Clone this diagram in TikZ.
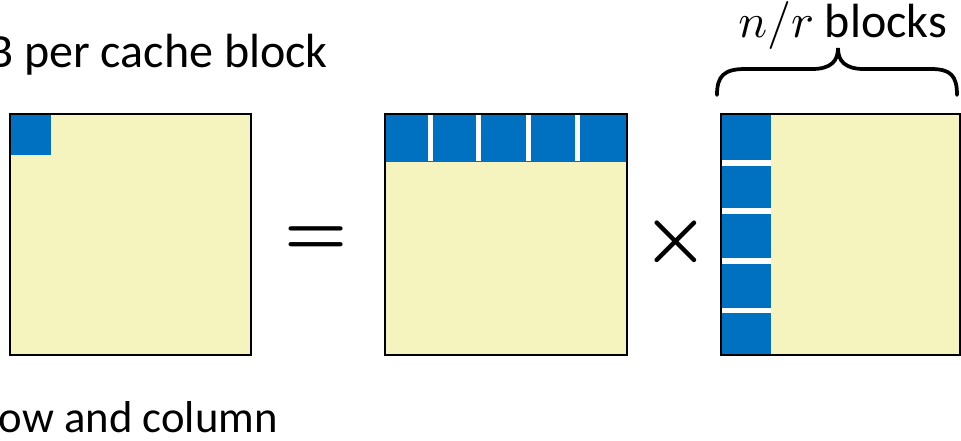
\documentclass[tikz,border=0pt]{standalone}
\usepackage{graphicx}
\usepackage{fontspec}
\setmainfont{Carlito}
\definecolor{matyellow}{RGB}{245,244,190}
\definecolor{blockblue}{RGB}{0,112,192}
\newcommand{\bigmath}[2]{\scalebox{#1}{\normalsize$#2$}}
\begin{document}
\begin{tikzpicture}[x=0.75pt,y=-0.75pt,
  matbox/.style={draw=black,line width=2.2pt,fill=none},
  matfill/.style={fill=matyellow},
  blueblk/.style={fill=blockblue},
  gapline/.style={draw=white,line width=3.9pt},
  lbl/.style={font=\fontsize{36}{44}\selectfont,inner sep=0pt},
  opsym/.style={font=\normalsize\boldmath,inner sep=0pt}]
\clip (0,0) rectangle (961,440);
\useasboundingbox (0,0) rectangle (961,440);
% left matrix
\fill[matfill] (10,114) rectangle (251,355);
\fill[blueblk] (10,114) rectangle (51,155);
\draw[matbox] (10,114) rectangle (251,355);
% middle matrix
\fill[matfill] (385,114) rectangle (627,355);
\fill[blueblk] (385,114) rectangle (627,162);
\foreach \gx in {430.8,478.5,528.2,577.5}{\draw[gapline] (\gx,114) -- (\gx,161);}
\draw[matbox] (385,114) rectangle (627,355);
% right matrix
\fill[matfill] (721,114) rectangle (961,355);
\fill[blueblk] (721,114) rectangle (771,355);
\foreach \gy in {163,211,261,310.5}{\draw[gapline] (722,\gy) -- (771,\gy);}
\draw[matbox] (721,114) rectangle (960,355);
% operators
\node[opsym] (eq) at (316,241) {\scalebox{5.3}{$=$}};
\node[opsym] (times) at (675.5,241.5) {\scalebox{5.6}{$\times$}};
% brace
\draw[line width=2.8pt,line cap=round] (717,95) .. controls (717,76) and (724,69) .. (745,69) -- (812,69) .. controls (831,69) and (838,61) .. (838,48) .. controls (838,61) and (845,69) .. (864,69) -- (931,69) .. controls (951,69) and (957,76) .. (957,95);
% labels
\node[lbl,anchor=base west] (nr) at (738,37) {\bigmath{3.6}{n/r} blocks};
\node[lbl,anchor=base east] (top) at (328,67) {B per cache block};
\node[lbl,font=\fontsize{33.5}{40}\selectfont,anchor=base east] (bot) at (278,432) {ow and column};
\end{tikzpicture}
\end{document}
